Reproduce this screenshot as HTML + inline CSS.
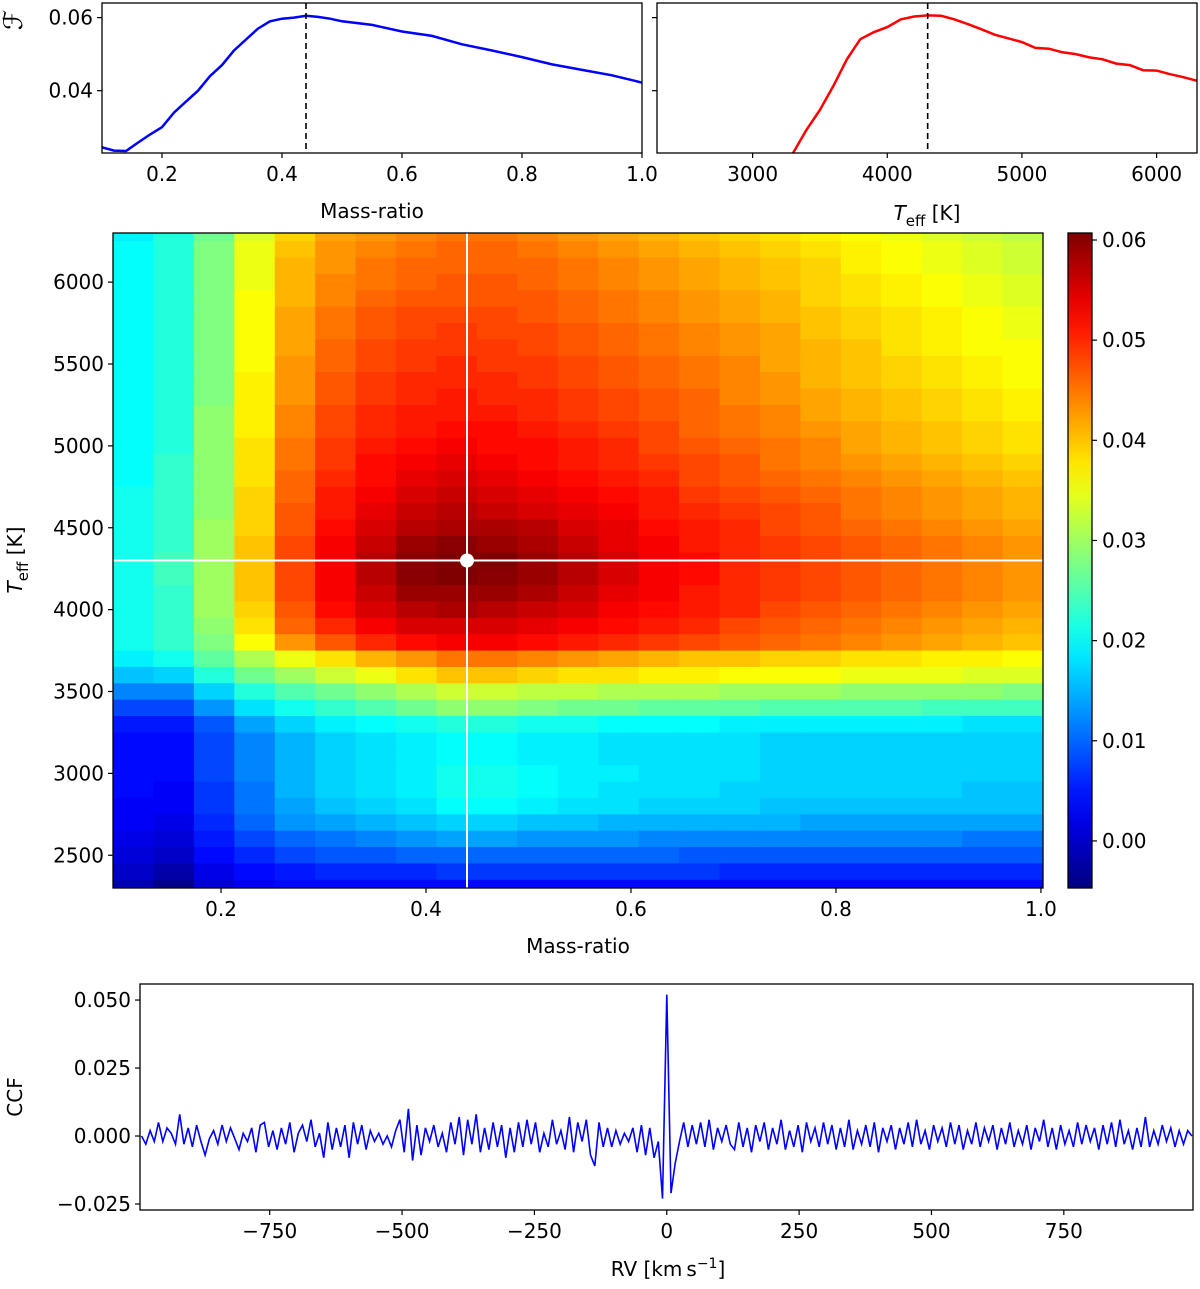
<!DOCTYPE html>
<html><head><meta charset="utf-8"><style>
body{margin:0;background:#fff;}
svg text{font-family:"DejaVu Sans","Liberation Sans",sans-serif;fill:#000;}
</style></head><body>
<svg id="fig" width="1200" height="1284" viewBox="0 0 1200 1284" xmlns="http://www.w3.org/2000/svg"></svg>
<script>
// ---------- data ----------
const qCurveX=[0.10,0.12,0.14,0.16,0.18,0.20,0.22,0.24,0.26,0.28,0.30,0.32,0.34,0.36,0.38,0.40,0.42,0.44,0.46,0.48,0.50,0.55,0.60,0.65,0.70,0.75,0.80,0.85,0.90,0.95,1.00];
const qCurveF=[0.0245,0.0236,0.0235,0.0258,0.0280,0.0300,0.0340,0.0370,0.0400,0.0440,0.0470,0.0510,0.0540,0.0570,0.0590,0.0597,0.0600,0.0605,0.0602,0.0597,0.0590,0.0580,0.0562,0.0550,0.0527,0.0510,0.0492,0.0472,0.0457,0.0442,0.0422];
const tCurveX=[3300,3400,3500,3600,3700,3800,3900,4000,4100,4200,4300,4400,4500,4600,4700,4800,4900,5000,5100,5200,5300,5400,5500,5600,5700,5800,5900,6000,6100,6200,6300];
const tCurveF=[0.0229,0.0293,0.0347,0.0413,0.0486,0.0541,0.0560,0.0574,0.0595,0.0603,0.0606,0.0605,0.0595,0.0582,0.0568,0.0553,0.0543,0.0533,0.0517,0.0515,0.0505,0.0500,0.0491,0.0486,0.0474,0.0470,0.0456,0.0455,0.0445,0.0437,0.0427];
const bestQ=0.44, bestT=4300;
// heatmap rows: Teff centres from 6300 down to 2300, values in units of 0.001
const heatT=[6300,6200,6100,6000,5900,5800,5700,5600,5500,5400,5300,5200,5100,5000,4900,4800,4700,4600,4500,4400,4300,4200,4100,4000,3900,3800,3700,3600,3500,3400,3300,3200,3100,3000,2900,2800,2700,2600,2500,2400,2300];
const heatVals=[
[19,22,27,34,39,42,43,44,45,45,44,43,42,41,40,39,38,37,36,35,34,33,32],
[20,22,28,35,40,43,44,45,46,46,45,44,43,42,41,40,39,38,37,36,35,34,33],
[20,22,28,35,41,43,45,46,46,46,46,45,44,43,42,41,40,39,37,36,35,34,33],
[20,22,28,35,41,44,45,46,47,47,46,45,44,43,42,41,40,39,38,37,36,35,34],
[20,22,28,36,41,44,46,47,47,47,47,46,45,44,43,42,41,39,38,37,36,35,34],
[20,22,28,36,42,45,47,48,48,48,47,46,45,44,43,42,41,40,39,38,37,36,35],
[20,22,28,36,42,45,47,48,49,48,48,47,46,45,44,43,42,40,39,38,37,36,35],
[20,22,28,36,42,46,48,49,49,49,48,47,46,45,44,43,42,41,40,38,37,36,36],
[20,22,28,36,43,46,48,49,50,49,49,48,47,46,45,44,42,41,40,39,38,37,36],
[20,22,28,37,43,47,49,50,50,50,49,48,47,46,45,44,43,41,40,39,38,37,36],
[20,22,28,37,43,47,49,50,51,50,50,49,48,47,46,44,43,42,41,40,39,38,37],
[20,22,29,37,44,48,50,51,51,51,50,49,48,47,46,45,44,42,41,40,39,38,37],
[20,22,29,37,44,48,50,51,52,52,51,50,49,48,46,45,44,43,42,41,40,39,38],
[20,22,29,38,45,49,51,52,53,52,52,51,50,48,47,46,45,44,42,41,40,39,38],
[20,23,29,38,45,49,52,53,54,53,52,51,50,49,48,47,45,44,43,42,41,40,39],
[20,23,29,38,46,50,52,54,55,54,53,52,51,50,48,47,46,45,44,43,42,41,40],
[21,23,29,39,46,51,53,55,56,55,54,53,52,51,49,48,47,46,45,44,43,42,41],
[21,23,29,39,47,51,54,56,57,56,55,54,53,51,50,49,48,47,45,44,43,42,41],
[21,23,30,39,47,52,55,57,58,58,57,55,54,52,51,50,48,47,46,45,44,43,42],
[21,23,30,40,48,53,56,59,60,59,58,56,54,53,51,50,49,48,47,46,45,44,43],
[21,24,30,40,48,53,57,60,61,61,59,57,55,53,52,50,49,48,47,46,45,44,43],
[21,24,30,40,48,53,57,60,61,60,59,57,55,53,52,50,49,48,47,46,45,44,43],
[21,23,30,40,48,53,56,59,59,59,58,56,54,53,51,50,49,48,47,46,45,44,43],
[21,23,30,39,47,52,55,57,58,57,56,55,53,52,51,50,48,47,46,45,44,43,42],
[21,23,29,38,46,50,53,55,55,55,54,53,52,51,50,48,47,46,45,44,43,42,41],
[21,23,28,36,43,47,50,52,53,53,52,51,50,49,48,47,46,45,44,43,42,41,40],
[19,21,26,31,35,38,41,43,45,45,44,43,42,41,40,40,39,39,38,38,37,37,36],
[16,17,22,27,30,33,35,38,40,40,39,38,38,37,37,36,36,36,35,35,35,34,34],
[12,12,17,22,25,27,29,31,33,33,32,32,31,31,31,30,30,30,29,29,29,29,28],
[8,8,13,18,21,23,25,27,29,29,28,27,27,26,26,26,25,25,25,25,24,24,24],
[5,5,9,14,17,19,20,21,22,22,21,21,20,20,20,19,19,19,19,19,19,18,18],
[4,4,8,12,15,17,18,19,20,20,19,19,18,18,18,18,17,17,17,17,17,17,17],
[4,4,8,12,15,17,18,19,20,20,19,19,18,18,18,18,17,17,17,17,17,17,17],
[4,4,8,12,15,17,18,19,21,21,20,19,19,18,18,18,17,17,17,17,17,17,17],
[4,3,7,11,15,17,18,19,21,21,20,19,18,18,18,17,17,17,17,17,17,16,16],
[3,3,7,11,14,16,17,18,20,20,19,18,18,17,17,17,16,16,16,16,16,16,16],
[3,2,6,10,13,14,15,16,17,17,16,16,15,15,15,15,15,14,14,14,14,14,14],
[2,1,5,8,10,11,12,13,14,14,13,13,13,12,12,12,12,12,12,12,12,11,11],
[1,0,4,6,8,9,9,10,10,10,10,10,10,10,9,9,9,9,9,9,9,9,9],
[0,-2,2,4,5,6,6,6,7,7,7,7,7,7,7,6,6,6,6,6,6,6,6],
[-1,-4,1,3,4,4,4,4,4,4,4,4,4,4,4,4,4,4,4,4,4,4,4]];
// CCF: rv from -992 step 8, values in units of 0.001
const ccfStart=-992, ccfStep=8;
const ccfVals=[0,-3,2,-2,5,-2,3,1,-3,8,
-3,3,-4,4,-2,-7,-1,2,-3,4,
-2,3,-1,-5,1,-2,3,-6,4,5,
-4,2,-5,3,-3,5,-6,1,4,-2,
6,-4,1,-8,5,-5,3,-4,4,-8,
5,-3,4,-5,2,-2,1,-3,0,-4,
2,6,-6,10,-9,4,-7,3,-2,4,
-4,1,-6,5,-3,7,-7,6,-3,8,
-6,3,-5,5,-4,4,-8,3,-6,5,
-4,6,-3,5,-6,1,-4,6,-3,2,
-5,7,-6,5,-2,6,-7,-11,5,-4,
3,-4,2,-3,1,-2,3,-6,4,-7,
3,-8,-2,-23,52,-21,-10,-2,5,-4,
4,-3,5,-4,6,-5,3,-2,4,-3,
-5,5,-4,3,-6,4,-2,5,-5,3,
-3,6,-5,2,-4,4,-6,5,-2,3,
-4,5,-3,4,-5,3,-4,6,-5,2,
-3,4,-4,5,-6,3,-2,4,-5,3,
-3,5,-4,6,-3,2,-5,4,-2,3,
-4,5,-3,4,-5,2,-3,5,-4,3,
-2,4,-5,3,-3,5,-4,2,-3,4,
-5,3,-2,6,-4,3,-5,4,-3,2,
-4,5,-3,4,-2,3,-5,4,-3,5,
-4,6,-3,2,-5,3,-4,7,-4,2,
-3,4,-2,3,-4,2,-3,2,0];
const qTicks=[0.2,0.4,0.6,0.8,1.0], qTickLabels=["0.2","0.4","0.6","0.8","1.0"];
const tTicksTop=[3000,4000,5000,6000];
const tTicksMain=[2500,3000,3500,4000,4500,5000,5500,6000];
const fTicks=[0.04,0.06], fTickLabels=["0.04","0.06"];
const cbTicks=[0,0.01,0.02,0.03,0.04,0.05,0.06], cbTickLabels=["0.00","0.01","0.02","0.03","0.04","0.05","0.06"];
const rvTicks=[-750,-500,-250,0,250,500,750], rvTickLabels=["\u2212750","\u2212500","\u2212250","0","250","500","750"];
const ccfTicks=[-0.025,0,0.025,0.05], ccfTickLabels=["\u22120.025","0.000","0.025","0.050"];

// ---------- helpers ----------
const NS="http://www.w3.org/2000/svg", svg=document.getElementById('fig');
function el(tag,attrs,parent){const e=document.createElementNS(NS,tag);for(const k in attrs)e.setAttribute(k,attrs[k]);(parent||svg).appendChild(e);return e;}
function lin(d0,d1,r0,r1){return v=>r0+(v-d0)*(r1-r0)/(d1-d0);}
function jet(t){t=Math.max(0,Math.min(1,t));
 const r=Math.max(0,Math.min(1,Math.min(4*t-1.5,-4*t+4.5)));
 const g=Math.max(0,Math.min(1,Math.min(4*t-0.5,-4*t+3.5)));
 const b=Math.max(0,Math.min(1,Math.min(4*t+0.5,-4*t+2.5)));
 return `rgb(${Math.round(r*255)},${Math.round(g*255)},${Math.round(b*255)})`;}
function txt(x,y,s,anchor,name,size){const t=el('text',{x:x,y:y,'text-anchor':anchor||'middle','font-size':size||20});t.textContent=s;
 
 return t;}
function xtick(x,y,lab,name){const l=el('line',{x1:x,x2:x,y1:y,y2:y+5,stroke:'#000','stroke-width':1.2});
 
 
 txt(x,y+28,lab,'middle',name+'-label');}
function ytick(x,y,lab,name){const l=el('line',{x1:x-5,x2:x,y1:y,y2:y,stroke:'#000','stroke-width':1.2});
 
 
 if(lab!==null)txt(x-9,y+7,lab,'end',name+'-label');}
function frame(x0,y0,x1,y1,name){const r=el('rect',{x:x0,y:y0,width:x1-x0,height:y1-y0,fill:'none',stroke:'#000','stroke-width':1.3});
 
 }
function poly(xs,ys,fx,fy,color,name,clip,w){const pts=xs.map((v,i)=>fx(v).toFixed(1)+','+fy(ys[i]).toFixed(1)).join(' ');
 const p=el('polyline',{points:pts,fill:'none',stroke:color,'stroke-width':w||2.5,'clip-path':clip?`url(#${clip})`:''});
 
 }
const defs=el('defs',{});
function clip(id,x,y,w,h){const c=el('clipPath',{id:id},defs);el('rect',{x:x,y:y,width:w,height:h},c);}

// ---------- top-left panel ----------
const TL={x0:102,x1:642,y0:3,y1:153};
const fxTL=lin(0.1,1.0,TL.x0,TL.x1), fyTop=lin(0.02294,0.064,TL.y1,TL.y0);
clip('cTL',TL.x0,TL.y0,TL.x1-TL.x0,TL.y1-TL.y0);
poly(qCurveX,qCurveF,fxTL,fyTop,'#0000ff','mass-ratio-curve','cTL');
let dl=el('line',{x1:fxTL(bestQ),x2:fxTL(bestQ),y1:TL.y0,y2:TL.y1,stroke:'#000','stroke-width':1.6,'stroke-dasharray':'6,4'});


frame(TL.x0,TL.y0,TL.x1,TL.y1,'mass-ratio-panel');
qTicks.forEach((v,i)=>xtick(fxTL(v),TL.y1,qTickLabels[i],'top-q-axis'));
fTicks.forEach((v,i)=>ytick(TL.x0,fyTop(v),fTickLabels[i],'top-f-axis'));
txt(372,218,'Mass-ratio','middle','top-left-x-title');
let fl=txt(0,0,'\u2131','middle','f-y-title',26);fl.setAttribute('font-style','italic');fl.setAttribute('transform','translate(22,20) rotate(-90)');

// ---------- top-right panel ----------
const TR={x0:657,x1:1197,y0:3,y1:153};
const fxTR=lin(2290,6300,TR.x0,TR.x1);
clip('cTR',TR.x0,TR.y0,TR.x1-TR.x0,TR.y1-TR.y0);
poly(tCurveX,tCurveF,fxTR,fyTop,'#ff0000','teff-curve','cTR');
dl=el('line',{x1:fxTR(bestT),x2:fxTR(bestT),y1:TR.y0,y2:TR.y1,stroke:'#000','stroke-width':1.6,'stroke-dasharray':'6,4'});


frame(TR.x0,TR.y0,TR.x1,TR.y1,'teff-panel');
tTicksTop.forEach(v=>xtick(fxTR(v),TR.y1,String(v),'top-teff-axis'));
fTicks.forEach(v=>ytick(TR.x0,fyTop(v),null,'top-right-f-axis'));
let tt=el('text',{x:927,y:220,'text-anchor':'middle','font-size':20});


tt.innerHTML='<tspan font-style="italic">T</tspan><tspan font-size="15" dy="6">eff</tspan><tspan dy="-6"> [K]</tspan>';

// ---------- heatmap ----------
const HM={x0:113,x1:1043,y0:233,y1:888};
const qMin=0.0946,qMax=1.002,tMin=2300,tMax=6300,vMin=-0.0047,vMax=0.0607;
const fxH=lin(qMin,qMax,HM.x0,HM.x1), fyH=lin(tMin,tMax,HM.y1,HM.y0);
const nc=heatVals[0].length, dq=(qMax-qMin)/nc, dT=100;
clip('cHM',HM.x0,HM.y0,HM.x1-HM.x0,HM.y1-HM.y0);
const gH=el('g',{'clip-path':'url(#cHM)'});
heatVals.forEach((row,ri)=>{row.forEach((v,ci)=>{
 const xa=fxH(qMin+ci*dq), xb=fxH(qMin+(ci+1)*dq), ya=fyH(heatT[ri]+dT/2), yb=fyH(heatT[ri]-dT/2);
 const c=el('rect',{x:xa.toFixed(2),y:ya.toFixed(2),width:(xb-xa+0.6).toFixed(2),height:(yb-ya+0.6).toFixed(2),fill:jet((v/1000-vMin)/(vMax-vMin))},gH);
 
 });});
let wl=el('line',{x1:fxH(bestQ),x2:fxH(bestQ),y1:HM.y0,y2:HM.y1,stroke:'#fff','stroke-width':2});

wl=el('line',{x1:HM.x0,x2:HM.x1,y1:fyH(bestT),y2:fyH(bestT),stroke:'#fff','stroke-width':2});

let dot=el('circle',{cx:fxH(bestQ),cy:fyH(bestT),r:7,fill:'#fff'});

frame(HM.x0,HM.y0,HM.x1,HM.y1,'heatmap-frame');
qTicks.forEach((v,i)=>xtick(fxH(v),HM.y1,qTickLabels[i],'heatmap-q-axis'));
tTicksMain.forEach(v=>ytick(HM.x0,fyH(v),String(v),'heatmap-teff-axis'));
txt(578,953,'Mass-ratio','middle','heatmap-x-title');
tt=el('text',{x:0,y:0,'text-anchor':'middle','font-size':20,transform:'translate(22,560) rotate(-90)'});


tt.innerHTML='<tspan font-style="italic">T</tspan><tspan font-size="15" dy="6">eff</tspan><tspan dy="-6"> [K]</tspan>';

// ---------- colorbar ----------
const CB={x0:1068,x1:1092,y0:233,y1:888};
const fyCB=lin(vMin,vMax,CB.y1,CB.y0);
const grad=el('linearGradient',{id:'jetg',x1:0,y1:1,x2:0,y2:0},defs);
for(let i=0;i<=20;i++)el('stop',{offset:i/20,'stop-color':jet(i/20)},grad);
let cb=el('rect',{x:CB.x0,y:CB.y0,width:CB.x1-CB.x0,height:CB.y1-CB.y0,fill:'url(#jetg)',stroke:'#000','stroke-width':1.3});

cbTicks.forEach((v,i)=>{const y=fyCB(v);const l=el('line',{x1:CB.x1,x2:CB.x1+5,y1:y,y2:y,stroke:'#000','stroke-width':1.2});
 
 
 txt(CB.x1+10,y+7,cbTickLabels[i],'start','colorbar-label');});

// ---------- CCF panel ----------
const CC={x0:140,x1:1193,y0:984,y1:1210};
const fxC=lin(-995,994,CC.x0,CC.x1), fyC=lin(-0.0272,0.0559,CC.y1,CC.y0);
const rvs=ccfVals.map((v,i)=>ccfStart+i*ccfStep), ccf=ccfVals.map(v=>v/1000);
clip('cCC',CC.x0,CC.y0,CC.x1-CC.x0,CC.y1-CC.y0);
poly(rvs,ccf,fxC,fyC,'#0000ff','ccf-line','cCC',1.6);
frame(CC.x0,CC.y0,CC.x1,CC.y1,'ccf-panel');
rvTicks.forEach((v,i)=>xtick(fxC(v),CC.y1,rvTickLabels[i],'rv-axis'));
ccfTicks.forEach((v,i)=>ytick(CC.x0,fyC(v),ccfTickLabels[i],'ccf-axis'));
tt=el('text',{x:668,y:1276,'text-anchor':'middle','font-size':20});


tt.innerHTML='RV [km\u2009s<tspan font-size="14" dy="-8">\u22121</tspan><tspan dy="8">]</tspan>';
tt=el('text',{x:0,y:0,'text-anchor':'middle','font-size':20,transform:'translate(22,1097) rotate(-90)'});


tt.textContent='CCF';
</script>
</body></html>
